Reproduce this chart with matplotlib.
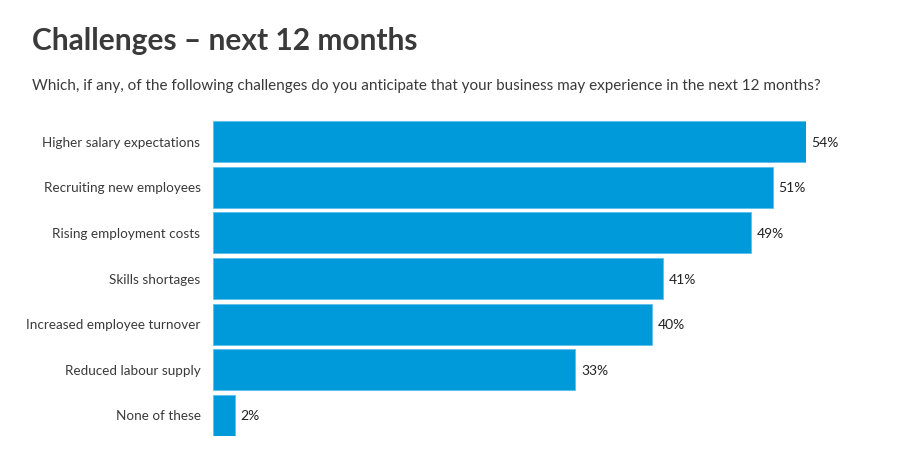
import matplotlib
matplotlib.use("Agg")
import matplotlib.pyplot as plt

# === DADOS ===
categorias = [
    "Higher salary expectations",
    "Recruiting new employees",
    "Rising employment costs",
    "Skills shortages",
    "Increased employee turnover",
    "Reduced labour supply",
    "None of these",
]
valores = [54, 51, 49, 41, 40, 33, 2]

TITULO = "Challenges \u2013 next 12 months"
SUBTITULO = ("Which, if any, of the following challenges do you anticipate that "
             "your business may experience in the next 12 months?")

AZUL = "#009ADB"
TEXTO = "#3a3a3a"

plt.rcParams['font.family'] = ['Lato', 'DejaVu Sans']

fig = plt.figure(figsize=(9, 4.52), dpi=100)
ax = fig.add_axes([213 / 900, 1 - 437 / 452, (806 - 213) / 900, (437 - 122) / 452])

pos = list(range(len(categorias)))
barras = ax.barh(pos, valores, height=0.9, color=AZUL, edgecolor="#5cc0ee", linewidth=0.6)
ax.set_xlim(0, 54)
ax.set_ylim(len(categorias) - 0.55, -0.45)

for y, v, nome in zip(pos, valores, categorias):
    ax.annotate(f"{v}%", (v, y), xytext=(4, 0), textcoords="offset points",
                va="center", ha="left", fontsize=10, color="#222222", annotation_clip=False)
    ax.annotate(nome, (0, y), xytext=(-9, 0), textcoords="offset points",
                va="center", ha="right", fontsize=9.7, color=TEXTO, annotation_clip=False)

ax.axis("off")

fig.text(32 / 900, 1 - 41 / 452, TITULO, fontsize=21.5, fontweight="bold",
         color=TEXTO, va="center", ha="left")
fig.text(32 / 900, 1 - 86 / 452, SUBTITULO, fontsize=11, color=TEXTO,
         va="center", ha="left")

fig.savefig("out.png", dpi=100)
